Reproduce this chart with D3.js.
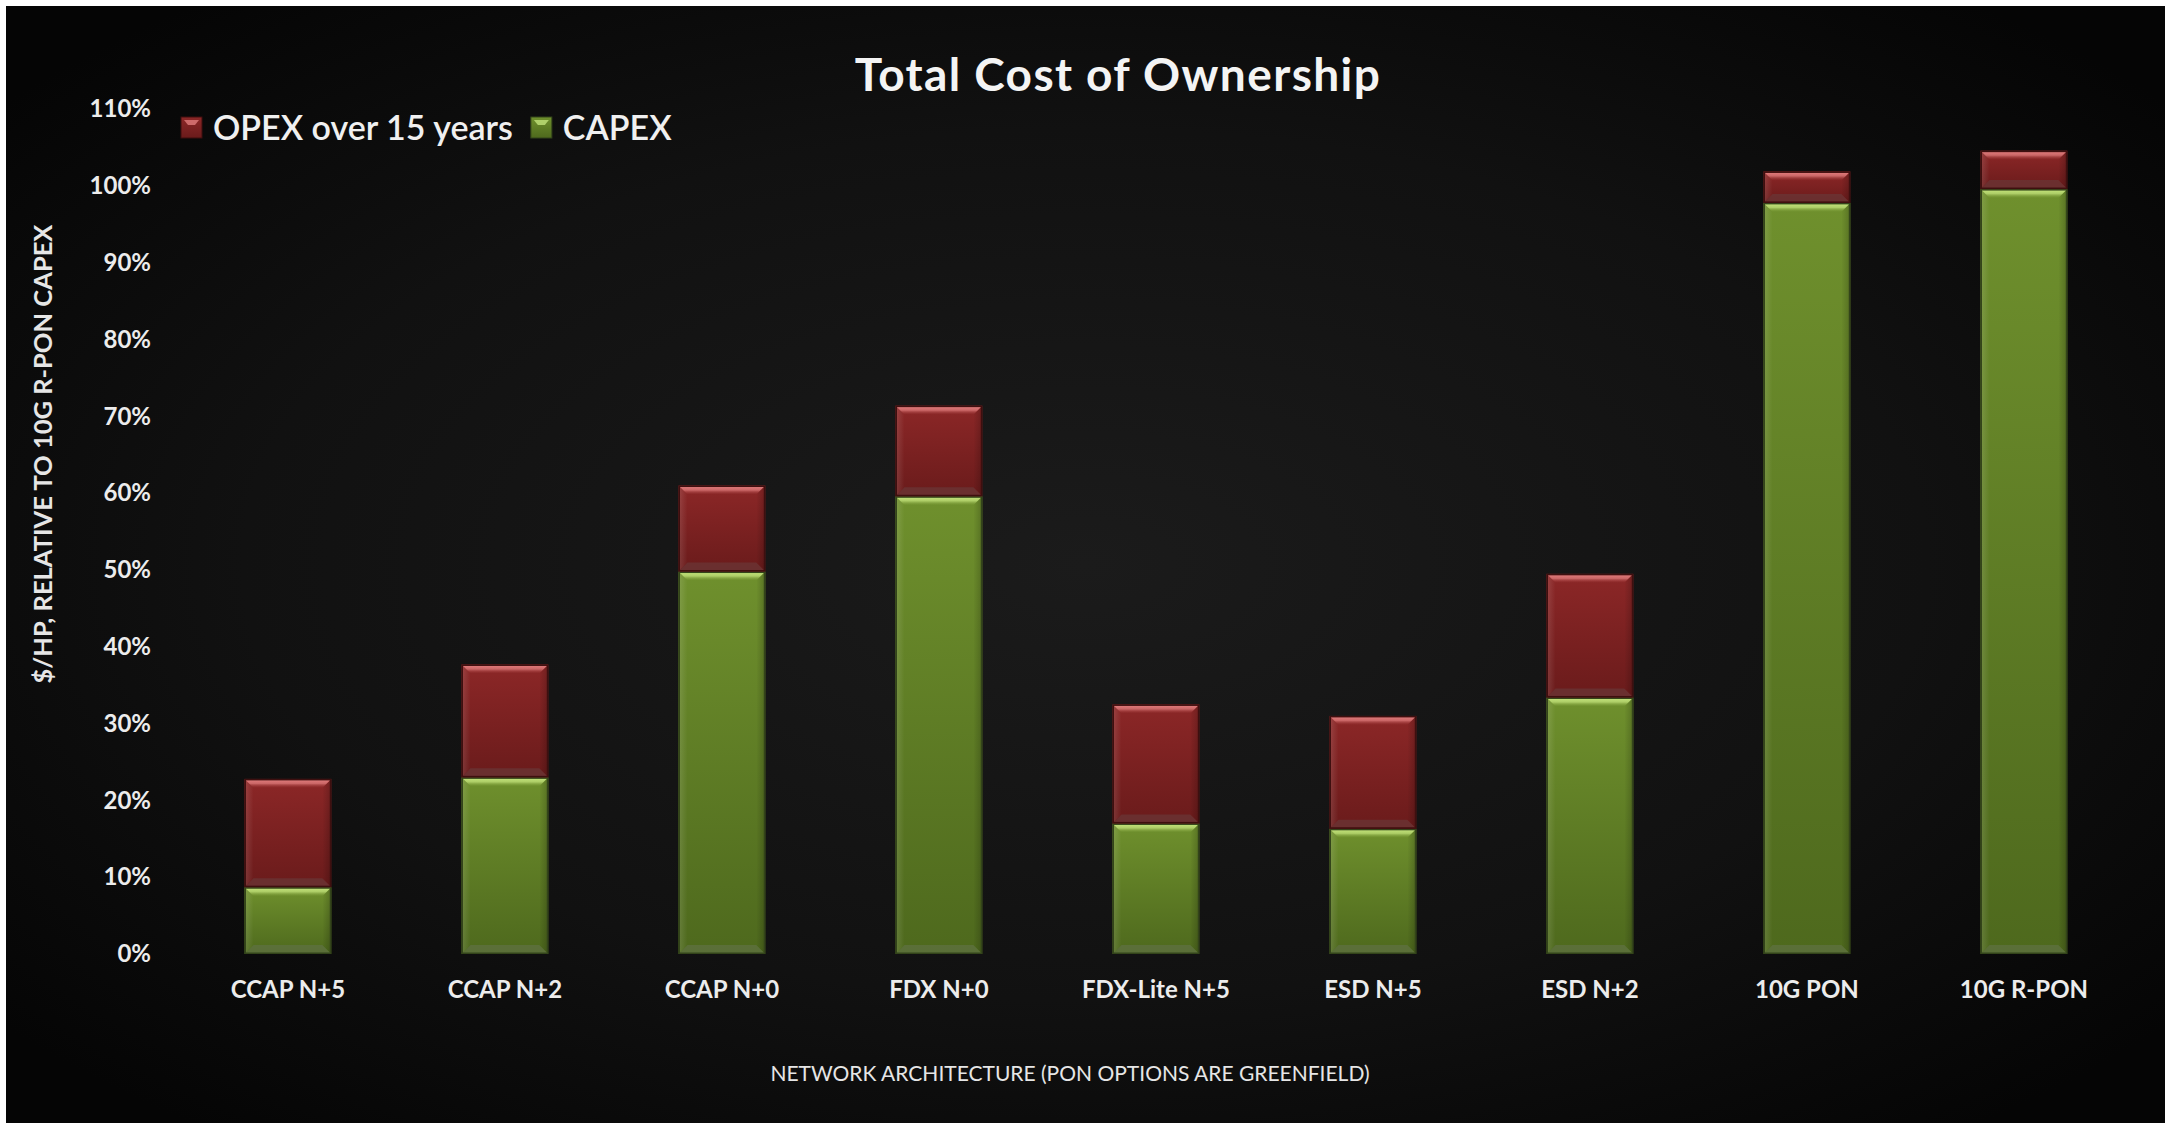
<!DOCTYPE html>
<html>
<head>
<meta charset="utf-8">
<script src="https://cdn.jsdelivr.net/npm/d3@7"></script>
<style>
  html, body { margin: 0; padding: 0; background: #ffffff; }
  svg { display: block; }
  text { font-family: Lato, "Open Sans", "Noto Sans", sans-serif; }
</style>
</head>
<body>
<svg id="chart" width="2168" height="1123"></svg>
<script>
// Architectures compared
const categories = ["CCAP N+5", "CCAP N+2", "CCAP N+0", "FDX N+0", "FDX-Lite N+5", "ESD N+5", "ESD N+2", "10G PON", "10G R-PON"];
// $/HP relative to 10G R-PON CAPEX, in percent
const capex = [8.7, 23.0, 49.8, 59.6, 17.0, 16.3, 33.4, 97.8, 99.6];
const opex = [14.1, 14.7, 11.2, 11.8, 15.5, 14.7, 16.1, 4.1, 5.0];
// Axis ticks
const yTicks = [0, 10, 20, 30, 40, 50, 60, 70, 80, 90, 100, 110];
const seriesNames = ["OPEX over 15 years", "CAPEX"];

const W = 2168, H = 1123;
const svg = d3.select("#chart");
const defs = svg.append("defs");

// Dark backdrop, slightly lighter toward the middle
const bg = defs.append("radialGradient").attr("id", "bgGrad")
  .attr("cx", "50%").attr("cy", "50%").attr("r", "65%");
bg.append("stop").attr("offset", "0%").attr("stop-color", "#1b1b1b");
bg.append("stop").attr("offset", "60%").attr("stop-color", "#111111");
bg.append("stop").attr("offset", "100%").attr("stop-color", "#050505");
svg.append("rect").attr("x", 6).attr("y", 6).attr("width", W - 9).attr("height", H - 6)
  .attr("fill", "url(#bgGrad)");

// Bar palettes
const palette = {
  capex: { top: "#6f902d", bottom: "#4e691d", hi: "#c2e27a", lo: "#5e7040", edge: "#33441a" },
  opex:  { top: "#8c2727", bottom: "#6a1b1b", hi: "#e07c7c", lo: "#6a3434", edge: "#3e0f0f" }
};
Object.entries(palette).forEach(([k, p]) => {
  const g = defs.append("linearGradient").attr("id", "fill-" + k)
    .attr("x1", 0).attr("y1", 0).attr("x2", 0).attr("y2", 1);
  g.append("stop").attr("offset", "0%").attr("stop-color", p.top);
  g.append("stop").attr("offset", "100%").attr("stop-color", p.bottom);
  const h = defs.append("linearGradient").attr("id", "hi-" + k)
    .attr("x1", 0).attr("y1", 0).attr("x2", 0).attr("y2", 1);
  h.append("stop").attr("offset", "0%").attr("stop-color", p.hi).attr("stop-opacity", 1);
  h.append("stop").attr("offset", "45%").attr("stop-color", p.hi).attr("stop-opacity", 0.75);
  h.append("stop").attr("offset", "100%").attr("stop-color", p.top).attr("stop-opacity", 0.2);
});
const sideL = defs.append("linearGradient").attr("id", "sideL").attr("x1", 0).attr("x2", 1);
sideL.append("stop").attr("offset", "0%").attr("stop-color", "#ffffff").attr("stop-opacity", 0.12);
sideL.append("stop").attr("offset", "100%").attr("stop-color", "#ffffff").attr("stop-opacity", 0.0);
const sideR = defs.append("linearGradient").attr("id", "sideR").attr("x1", 1).attr("x2", 0);
sideR.append("stop").attr("offset", "0%").attr("stop-color", "#000000").attr("stop-opacity", 0.18);
sideR.append("stop").attr("offset", "100%").attr("stop-color", "#000000").attr("stop-opacity", 0.0);

// Scales
const x = d3.scaleBand().domain(categories).range([179.4, 2132.4])
  .paddingInner(0.6).paddingOuter(0.3);
const y = d3.scaleLinear().domain([0, 110]).range([954, 954 - 1.1 * 768]);

// Stacked layout: CAPEX at the bottom, OPEX above
const table = categories.map((c, i) => ({ category: c, capex: capex[i], opex: opex[i] }));
const stacked = d3.stack().keys(["capex", "opex"])(table);

const bars = svg.append("g").attr("class", "bars");
stacked.forEach(layer => {
  const key = layer.key;
  const p = palette[key];
  layer.forEach(d => {
    const x0 = x(d.data.category), w = x.bandwidth();
    const yt = y(d[1]), yb = y(d[0]), h = yb - yt;
    const b = Math.min(9, h / 3);
    const g = bars.append("g");
    g.append("rect").attr("x", x0).attr("y", yt).attr("width", w).attr("height", h)
      .attr("fill", `url(#fill-${key})`);
    // side bevels
    g.append("path").attr("d", `M${x0 + 1},${yt + 1} L${x0 + b},${yt + b} V${yb - b} L${x0 + 1},${yb - 1} Z`)
      .attr("fill", "url(#sideL)");
    g.append("path").attr("d", `M${x0 + w - 1},${yt + 1} L${x0 + w - b},${yt + b} V${yb - b} L${x0 + w - 1},${yb - 1} Z`)
      .attr("fill", "url(#sideR)");
    // bottom bevel
    g.append("path").attr("d", `M${x0 + 1},${yb - 1} H${x0 + w - 1} L${x0 + w - b},${yb - b} H${x0 + b} Z`)
      .attr("fill", p.lo).attr("opacity", 0.8);
    // top bevel highlight
    g.append("path").attr("d", `M${x0 + 1},${yt + 1} H${x0 + w - 1} L${x0 + w - b},${yt + b} H${x0 + b} Z`)
      .attr("fill", `url(#hi-${key})`);
    g.append("rect").attr("x", x0 + 0.75).attr("y", yt + 0.75).attr("width", w - 1.5).attr("height", h - 1.5)
      .attr("fill", "none").attr("stroke", p.edge).attr("stroke-width", 1.5);
  });
});

// Y axis tick labels
const yAxis = svg.append("g").attr("transform", "translate(151,0)")
  .call(d3.axisLeft(y).tickValues(yTicks).tickFormat(d => d + "%").tickSize(0).tickPadding(0));
yAxis.select(".domain").remove();
yAxis.selectAll("text").attr("fill", "#ececec").attr("font-size", 24).attr("font-weight", 700)
  .attr("font-family", "Lato, sans-serif");

// X axis category labels
const xAxis = svg.append("g").attr("transform", "translate(0,980)")
  .call(d3.axisBottom(x).tickSize(0).tickPadding(0));
xAxis.select(".domain").remove();
xAxis.selectAll("text").attr("fill", "#ececec").attr("font-size", 24).attr("font-weight", 700)
  .attr("font-family", "Lato, sans-serif").attr("dy", "0.75em");

// Title
svg.append("text").attr("x", 1118).attr("y", 91).attr("text-anchor", "middle")
  .attr("fill", "#f4f4f4").attr("font-size", 46).attr("font-weight", 700)
  .attr("letter-spacing", "1.4px").text("Total Cost of Ownership");

// Axis titles
svg.append("text").attr("transform", "translate(52,454) rotate(-90)").attr("text-anchor", "middle")
  .attr("fill", "#e6e6e6").attr("font-size", 25.5).attr("font-weight", 700)
  .text("$/HP, RELATIVE TO 10G R-PON CAPEX");
svg.append("text").attr("x", 1070).attr("y", 1081).attr("text-anchor", "middle")
  .attr("fill", "#e6e6e6").attr("font-size", 21)
  .text("NETWORK ARCHITECTURE (PON OPTIONS ARE GREENFIELD)");

// Legend
const legendKeys = ["opex", "capex"];
const legend = svg.append("g");
let lx = 181;
legendKeys.forEach((k, i) => {
  const p = palette[k];
  const item = legend.append("g").attr("transform", `translate(${lx},117)`);
  item.append("rect").attr("width", 21).attr("height", 21).attr("fill", `url(#fill-${k})`)
    .attr("stroke", p.edge).attr("stroke-width", 1);
  item.append("path").attr("d", "M3,3 H18 L14,8 H7 Z").attr("fill", p.hi).attr("opacity", 0.8);
  const t = item.append("text").attr("x", 32).attr("y", 23).attr("fill", "#f0f0f0")
    .attr("font-size", 34).attr("font-weight", 600).text(seriesNames[i]);
  lx += 32 + t.node().getComputedTextLength() + 18;
});
</script>
</body>
</html>
